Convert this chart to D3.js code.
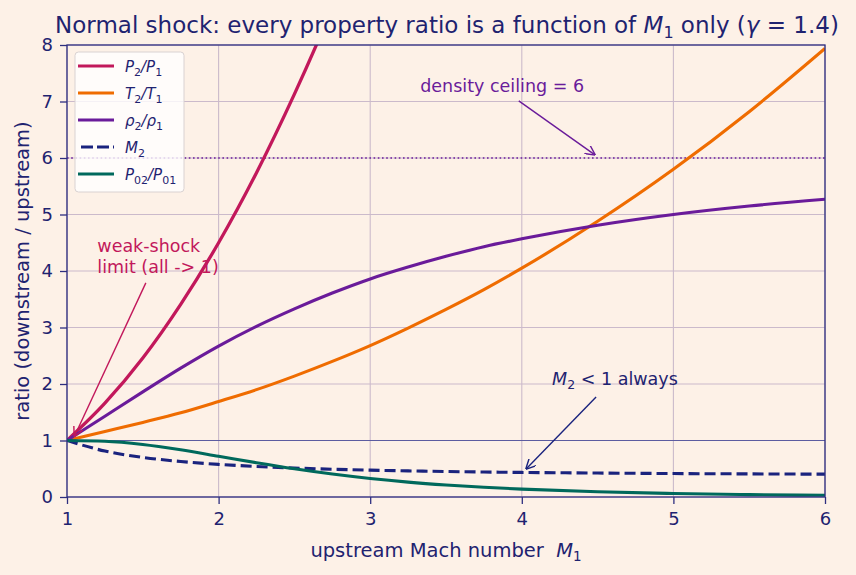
<!DOCTYPE html>
<html>
<head>
<meta charset="utf-8">
<script src="https://cdn.jsdelivr.net/npm/d3@7"></script>
<style>
  body { margin: 0; background: #fdf1e7; }
  text { font-family: "DejaVu Sans", sans-serif; white-space: pre; }
</style>
</head>
<body>
<div id="chart-area"></div>
<script>
// upstream Mach numbers
var mach = [1, 1.25, 1.5, 1.75, 2, 2.25, 2.5, 2.75, 3, 3.25, 3.5, 3.75, 4, 4.5, 5, 5.5, 6];

// property ratios read at those Mach numbers
var pRatio = [1, 1.66, 2.46, 3.41, 4.5, 5.74, 7.13, 8.66, 10.33, 12.16, 14.13, 16.24, 18.5, 23.46, 29, 35.13, 41.83];
var tRatio = [1, 1.16, 1.32, 1.49, 1.69, 1.90, 2.14, 2.40, 2.68, 2.99, 3.32, 3.67, 4.05, 4.88, 5.80, 6.82, 7.94];
var rhoRatio = [1, 1.43, 1.86, 2.28, 2.67, 3.02, 3.33, 3.61, 3.86, 4.07, 4.26, 4.43, 4.57, 4.81, 5.0, 5.15, 5.27];
var m2 = [1, 0.813, 0.701, 0.628, 0.577, 0.541, 0.513, 0.492, 0.475, 0.462, 0.451, 0.442, 0.435, 0.424, 0.415, 0.409, 0.404];
var p0Ratio = [1, 0.987, 0.930, 0.835, 0.721, 0.606, 0.499, 0.406, 0.328, 0.264, 0.213, 0.172, 0.139, 0.092, 0.062, 0.042, 0.030];

var xTicks = [1, 2, 3, 4, 5, 6];
var yTicks = [0, 1, 2, 3, 4, 5, 6, 7, 8];
var densityCeiling = 6;

var series = [
    {name: "P2/P1", values: pRatio, color: "#c2185b", dash: null, sub: ["P", "2", "/P", "1"]},
    {name: "T2/T1", values: tRatio, color: "#ef6c00", dash: null, sub: ["T", "2", "/T", "1"]},
    {name: "rho2/rho1", values: rhoRatio, color: "#6a1b9a", dash: null, sub: ["ρ", "2", "/ρ", "1"]},
    {name: "M2", values: m2, color: "#1a237e", dash: "11,5", sub: ["M", "2"]},
    {name: "P02/P01", values: p0Ratio, color: "#00695c", dash: null, sub: ["P", "02", "/P", "01"]}
];

var ink = "#1f2370";
var margin = {top: 45, right: 31, bottom: 78, left: 67};
var width = 856 - margin.left - margin.right;
var height = 575 - margin.top - margin.bottom;

var svg = d3.select("#chart-area")
    .append("svg")
        .attr("width", 856)
        .attr("height", 575)
        .style("background", "#fdf1e7");

var g = svg.append("g")
    .attr("transform", "translate(" + margin.left + ", " + margin.top + ")");

var x = d3.scaleLinear().domain([1, 6]).range([0, width]);
var y = d3.scaleLinear().domain([0, 8]).range([height, 0]);

svg.append("defs").append("clipPath").attr("id", "clip")
    .append("rect").attr("width", width).attr("height", height);

// grid
g.append("g").selectAll("line").data(xTicks).enter().append("line")
    .attr("x1", d => x(d)).attr("x2", d => x(d))
    .attr("y1", 0).attr("y2", height)
    .attr("stroke", "#cbbacb").attr("stroke-width", 1.1);
g.append("g").selectAll("line").data(yTicks).enter().append("line")
    .attr("x1", 0).attr("x2", width)
    .attr("y1", d => y(d)).attr("y2", d => y(d))
    .attr("stroke", "#cbbacb").attr("stroke-width", 1.1);

// reference line at 1
g.append("line")
    .attr("x1", 0).attr("x2", width)
    .attr("y1", y(1)).attr("y2", y(1))
    .attr("stroke", "#5c5ca0").attr("stroke-width", 1);

// density ceiling
g.append("line")
    .attr("x1", 0).attr("x2", width)
    .attr("y1", y(densityCeiling)).attr("y2", y(densityCeiling))
    .attr("stroke", "#6a1b9a").attr("stroke-width", 1.6)
    .attr("stroke-dasharray", "1.6,2.6");

var line = d3.line()
    .x((d, i) => x(mach[i]))
    .y(d => y(d))
    .curve(d3.curveMonotoneX);

var lines = g.append("g").attr("clip-path", "url(#clip)");
series.forEach(function(s, i) {
    lines.append("path")
        .attr("d", line(s.values))
        .attr("fill", "none")
        .attr("stroke", s.color)
        .attr("stroke-width", i == 0 ? 3.3 : 3.1)
        .attr("stroke-dasharray", s.dash);
});

// axes
var xAxisCall = d3.axisBottom(x).tickValues(xTicks).tickSize(7).tickPadding(8).tickFormat(d3.format("d"));
var yAxisCall = d3.axisLeft(y).tickValues(yTicks).tickSize(7).tickPadding(7).tickFormat(d3.format("d"));

var xAxisGroup = g.append("g").attr("transform", "translate(0, " + height + ")").call(xAxisCall);
var yAxisGroup = g.append("g").call(yAxisCall);
[xAxisGroup, yAxisGroup].forEach(function(a) {
    a.select(".domain").remove();
    a.selectAll("line").attr("stroke", "#2e2e80").attr("stroke-width", 1.3);
    a.selectAll("text").attr("fill", ink).style("font-size", "18px").style("font-family", "DejaVu Sans");
});

g.append("rect")
    .attr("width", width).attr("height", height)
    .attr("fill", "none").attr("stroke", "#2e2e80").attr("stroke-width", 1.3);

// axis labels
var xl = g.append("text")
    .attr("x", width / 2).attr("y", height + 60)
    .attr("text-anchor", "middle").attr("fill", ink)
    .style("font-size", "19.5px");
xl.append("tspan").text("upstream Mach number  ");
xl.append("tspan").attr("font-style", "italic").text("M");
xl.append("tspan").attr("font-size", "13.5px").attr("dy", 4).text("1");

g.append("text")
    .attr("transform", "rotate(-90)")
    .attr("x", -height / 2).attr("y", -38)
    .attr("text-anchor", "middle").attr("fill", ink)
    .style("font-size", "19.5px")
    .text("ratio (downstream / upstream)");

// title
var title = svg.append("text")
    .attr("x", 447).attr("y", 33)
    .attr("text-anchor", "middle").attr("fill", ink)
    .style("font-size", "23px");
title.append("tspan").text("Normal shock: every property ratio is a function of ");
title.append("tspan").attr("font-style", "italic").text("M");
title.append("tspan").attr("font-size", "16px").attr("dy", 5).text("1");
title.append("tspan").attr("dy", -5).text(" only (");
title.append("tspan").attr("font-style", "italic").text("γ");
title.append("tspan").text(" = 1.4)");

// annotations
var defs = svg.select("defs");
function marker(id, color) {
    defs.append("marker").attr("id", id)
        .attr("viewBox", "0 0 10 10").attr("refX", 9).attr("refY", 5)
        .attr("markerWidth", 10).attr("markerHeight", 10)
        .attr("markerUnits", "userSpaceOnUse")
        .attr("orient", "auto")
      .append("path").attr("d", "M0,0 L10,5 L0,10").attr("fill", "none")
        .attr("stroke", color).attr("stroke-width", 1.4);
}
marker("arrPurple", "#6a1b9a");
marker("arrRed", "#c2185b");
marker("arrNavy", "#1a237e");

function arrow(x1, y1, x2, y2, color, id) {
    g.append("line")
        .attr("x1", x(x1)).attr("y1", y(y1))
        .attr("x2", x(x2)).attr("y2", y(y2))
        .attr("stroke", color).attr("stroke-width", 1.4)
        .attr("marker-end", "url(#" + id + ")");
}

g.append("text")
    .attr("x", x(3.33)).attr("y", y(7.2) + 1.5)
    .attr("fill", "#6a1b9a").style("font-size", "17.5px")
    .text("density ceiling = 6");
arrow(3.98, 7.01, 4.48, 6.06, "#6a1b9a", "arrPurple");

var weak = g.append("text")
    .attr("x", x(1.2)).attr("y", y(4.3) - 2)
    .attr("fill", "#c2185b").style("font-size", "17.5px");
weak.append("tspan").text("weak-shock");
weak.append("tspan").attr("x", x(1.2)).attr("dy", 21).text("limit (all -> 1)");
arrow(1.52, 3.79, 1.05, 1.08, "#c2185b", "arrRed");

var m2text = g.append("text")
    .attr("x", x(4.2)).attr("y", y(2) + 1)
    .attr("fill", ink).style("font-size", "17.5px");
m2text.append("tspan").attr("font-style", "italic").text("M");
m2text.append("tspan").attr("font-size", "12.5px").attr("dy", 4).text("2");
m2text.append("tspan").attr("dy", -4).text(" < 1 always");
arrow(4.49, 1.77, 4.03, 0.5, "#1a237e", "arrNavy");

// legend
var legend = g.append("g").attr("transform", "translate(8, 7)");
legend.append("rect")
    .attr("width", 109).attr("height", 140).attr("rx", 3.5)
    .attr("fill", "#ffffff").attr("fill-opacity", 0.8)
    .attr("stroke", "#d9d2d2");
series.forEach(function(s, i) {
    var row = legend.append("g").attr("transform", "translate(0, " + (14 + i * 27) + ")");
    row.append("line")
        .attr("x1", s.dash ? 6 : 3).attr("x2", 39)
        .attr("stroke", s.color).attr("stroke-width", 3.1)
        .attr("stroke-dasharray", s.dash ? "12,4" : null);
    var t = row.append("text").attr("x", 50).attr("y", 5.5).attr("fill", ink).style("font-size", "15px");
    for (var k = 0; k < s.sub.length; k += 2) {
        t.append("tspan").attr("font-style", "italic").attr("dy", k ? -4 : 0).text(s.sub[k]);
        t.append("tspan").attr("font-size", "11px").attr("dy", 4).text(s.sub[k + 1]);
    }
});
</script>
</body>
</html>
